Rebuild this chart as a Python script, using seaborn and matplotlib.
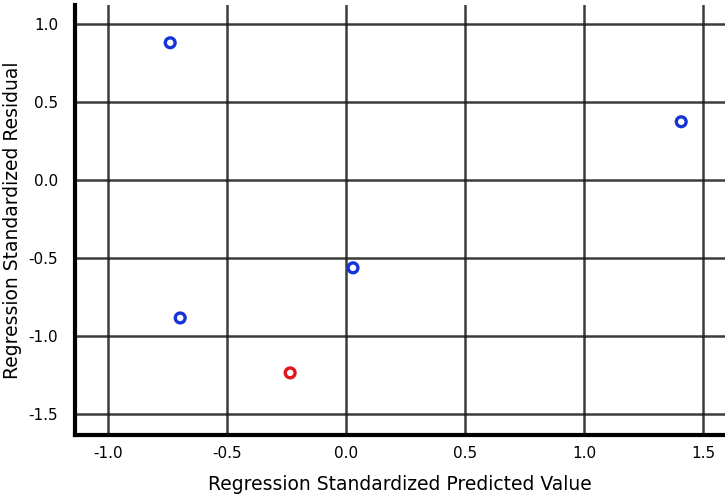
import matplotlib
matplotlib.use("Agg")
import matplotlib.pyplot as plt
import seaborn as sns
import pandas as pd

pred = [-0.739, 1.408, 0.029, -0.697, -0.235]
resid = [0.878, 0.372, -0.564, -0.885, -1.237]
group = ["a", "a", "a", "a", "b"]
xticks = [-1.0, -0.5, 0.0, 0.5, 1.0, 1.5]
yticks = [-1.5, -1.0, -0.5, 0.0, 0.5, 1.0]

df = pd.DataFrame({"pred": pred, "resid": resid, "group": group})

sns.set_style("white")
plt.rcParams['font.family'] = ['DejaVu Sans']

fig = plt.figure(figsize=(7.25, 4.97), dpi=100)
ax = fig.add_axes([75/725, 62/497, 650/725, 430/497])

ax.set_xlim(-1.139, 1.592)
ax.set_ylim(-1.635, 1.12)
ax.set_xticks(xticks)
ax.set_yticks(yticks)
ax.set_xticklabels([f"{v:.1f}" for v in xticks])
ax.set_yticklabels([f"{v:.1f}" for v in yticks])
ax.grid(True, color="#1a1a1a", linewidth=1.8, alpha=0.85)
ax.set_axisbelow(True)

sns.scatterplot(data=df, x="pred", y="resid", hue="group",
                palette={"a": "#1533d6", "b": "#e0181c"},
                marker="o", s=50, linewidth=2.4,
                legend=False, ax=ax)
coll = ax.collections[0]
ec = coll.get_facecolors()
coll.set_edgecolors(ec)
coll.set_facecolors("none")

for s in ["top", "right"]:
    ax.spines[s].set_visible(False)
for s in ["left", "bottom"]:
    ax.spines[s].set_color("black")
    ax.spines[s].set_linewidth(3)

ax.tick_params(axis="y", length=0, labelsize=11, pad=12, colors="black")
ax.tick_params(axis="x", length=0, labelsize=11, pad=8, colors="black")
ax.set_xlabel("Regression Standardized Predicted Value", fontsize=13.5,
              labelpad=10, color="black")
ax.set_ylabel("Regression Standardized Residual", fontsize=13.5,
              labelpad=5, color="black")

fig.savefig("out.png", dpi=100)
